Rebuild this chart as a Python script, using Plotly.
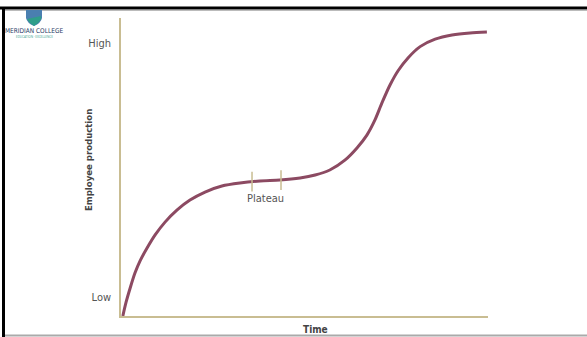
import plotly.graph_objects as go

# Learning curve: employee production over time
time_pts = [0.5, 1.4, 2.5, 3.8, 5.2, 7.1, 9.3, 12.0, 15.3, 18.8, 22.9, 27.5, 32.4,
            37.9, 43.3, 48.8, 52.9, 56.9, 61.0, 64.3, 67.0, 69.2, 71.1, 73.3, 75.5,
            78.2, 81.5, 85.6, 90.2, 95.1, 99.7]
production = [0.0, 4.7, 9.4, 14.4, 18.5, 22.8, 27.2, 31.5, 35.6, 38.9, 41.6, 43.6, 44.6,
              45.3, 45.6, 46.3, 47.3, 49.0, 52.3, 56.4, 60.7, 65.8, 71.5, 77.5, 82.3,
              86.6, 90.4, 92.9, 94.3, 95.0, 95.3]

# Plateau boundary marks
plateau_x = [35.7, 43.6]
plateau_y = [45.1, 45.6]

y_tick_vals = [6.4, 91.6]
y_tick_text = ["Low", "High"]

curve_color = "#8c4a62"
axis_color = "#c9bd92"
text_color = "#555555"
font_family = "DejaVu Sans Condensed, Liberation Sans Narrow, Liberation Sans, sans-serif"

fig = go.Figure()
fig.add_trace(go.Scatter(
    x=time_pts, y=production, mode="lines",
    line=dict(color=curve_color, width=3, shape="spline", smoothing=0.8),
    hoverinfo="skip", cliponaxis=False,
))
fig.add_trace(go.Scatter(
    x=plateau_x, y=plateau_y, mode="markers",
    marker=dict(symbol="line-ns-open", size=14, color=axis_color,
                line=dict(color="#b5a86e", width=1.5)),
    hoverinfo="skip",
))

# Page frame lines in paper coordinates (plot area spans px 121..488, 18..316)
def px(xp):
    return (xp - 121) / 367.0

def py(yp):
    return (316 - yp) / 298.0

shapes = [
    dict(type="line", xref="paper", yref="paper", x0=px(0), x1=px(587), y0=py(8), y1=py(8),
         line=dict(color="black", width=3)),
    dict(type="line", xref="paper", yref="paper", x0=px(5), x1=px(587), y0=py(10.5), y1=py(10.5),
         line=dict(color="#bbbbbb", width=1)),
    dict(type="line", xref="paper", yref="paper", x0=px(3.5), x1=px(3.5), y0=py(7), y1=py(337),
         line=dict(color="black", width=3)),
    dict(type="line", xref="paper", yref="paper", x0=px(5), x1=px(587), y0=py(335.5), y1=py(335.5),
         line=dict(color="#aaaaaa", width=2)),
    # college crest
    dict(type="path", xref="paper", yref="paper",
         path=f"M {px(26)},{py(10)} L {px(42)},{py(10)} L {px(42)},{py(18)} "
              f"Q {px(41)},{py(23)} {px(34)},{py(26)} Q {px(27)},{py(23)} {px(26)},{py(18)} Z",
         fillcolor="#4a7fb0", line=dict(width=0)),
    dict(type="path", xref="paper", yref="paper",
         path=f"M {px(27)},{py(19)} L {px(41)},{py(16)} L {px(41)},{py(19)} "
              f"Q {px(39)},{py(23)} {px(34)},{py(26)} Q {px(29)},{py(23)} {px(27)},{py(19)} Z",
         fillcolor="#2f9e8a", line=dict(width=0)),
]

annotations = [
    dict(text="MERIDIAN COLLEGE", xref="paper", yref="paper", x=px(34), y=py(31),
         showarrow=False, font=dict(size=6.5, color="#1f3b66", family=font_family),
         xanchor="center", yanchor="middle"),
    dict(text="EDUCATION · EXCELLENCE", xref="paper", yref="paper", x=px(34), y=py(37),
         showarrow=False, font=dict(size=3, color="#2f9e8a"), xanchor="center", yanchor="middle"),
    dict(text="Plateau", x=39.5, y=39.3, showarrow=False,
         font=dict(size=11, color=text_color, family=font_family)),
    dict(text="<b>Time</b>", xref="paper", yref="paper", x=px(315), y=py(329),
         showarrow=False, font=dict(size=10, color="#444444", family=font_family),
         xanchor="center", yanchor="middle"),
    dict(text="<b>Employee production</b>", xref="paper", yref="paper", x=px(88), y=py(160),
         showarrow=False, textangle=-90, font=dict(size=9.5, color="#444444", family=font_family),
         xanchor="center", yanchor="middle"),
]

fig.update_layout(
    width=587, height=337,
    margin=dict(l=121, r=99, t=18, b=21),
    paper_bgcolor="white", plot_bgcolor="white",
    showlegend=False,
    shapes=shapes,
    annotations=annotations,
    xaxis=dict(range=[0, 100], showgrid=False, zeroline=False, showticklabels=False,
               showline=True, linecolor=axis_color, linewidth=1.5, ticks="", fixedrange=True),
    yaxis=dict(range=[0, 100], showgrid=False, zeroline=False, tickvals=y_tick_vals,
               ticktext=y_tick_text, showline=True, linecolor=axis_color, linewidth=1.5,
               ticks="", ticklabelstandoff=6,
               tickfont=dict(size=11, color=text_color, family=font_family), fixedrange=True),
)

fig.write_html("out.html", config={"displayModeBar": False})
